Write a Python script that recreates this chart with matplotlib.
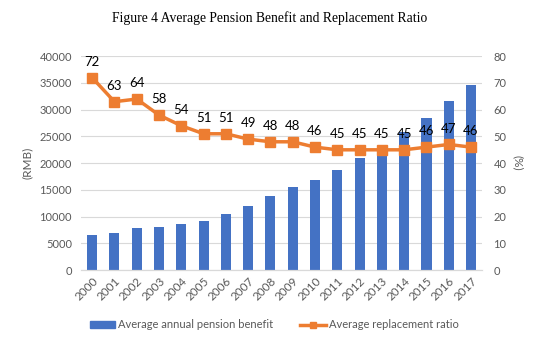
import numpy as np
import matplotlib
matplotlib.use("Agg")
import matplotlib.pyplot as plt
from matplotlib.lines import Line2D
from matplotlib.patches import Patch

# Pension data, 2000-2017
years = [str(y) for y in range(2000, 2018)]
pension = [6600, 6850, 7850, 8050, 8550, 9250, 10550, 12050, 13950,
           15450, 16850, 18800, 21000, 22500, 25800, 28400, 31700, 34600]
ratio = [72, 63, 64, 58, 54, 51, 51, 49, 48, 48, 46, 45, 45, 45, 45, 46, 47, 46]

blue = "#4472C4"
orange = "#ED7D31"
grey = "#595959"
font = ["Lato", "DejaVu Sans"]

fig = plt.figure(figsize=(5.4, 3.41), dpi=100)
ax0 = fig.add_axes([0.150, 0.208, 0.743, 0.627])
ax1 = ax0.twinx()

x = np.arange(len(years))
ax0.bar(x, pension, width=0.45, color=blue, zorder=2)
ax0.set_ylim(0, 40000)
ax0.set_yticks(np.arange(0, 40001, 5000))
ax0.set_xlim(-0.5, len(years) - 0.5)
ax0.grid(axis="y", color="#D9D9D9", linewidth=0.8, zorder=0)
ax0.set_axisbelow(True)

ax1.plot(x, ratio, color=orange, linewidth=2.5, marker="s", markersize=7, zorder=3)
ax1.set_ylim(0, 80)
ax1.set_yticks(np.arange(0, 81, 10))
for xi, r in zip(x, ratio):
	ax1.annotate(str(r), (xi, r), xytext=(0, 7), textcoords="offset points",
	             ha="center", va="bottom", fontsize=9.5, family=font, color="black")

for ax in (ax0, ax1):
	for s in ("top", "left", "right"):
		ax.spines[s].set_visible(False)
	ax.spines["bottom"].set_color("#D9D9D9")
	ax.tick_params(length=0, labelsize=8, labelcolor=grey)
	for lbl in ax.get_yticklabels():
		lbl.set_family(font)

ax0.set_xticks(x)
ax0.set_xticklabels(years, rotation=45, ha="right", rotation_mode="anchor", family=font)
ax0.tick_params(axis="x", labelsize=8.5)
ax0.tick_params(axis="y", pad=6.5)
ax1.tick_params(axis="y", pad=8)

ax0.set_ylabel("(RMB)", fontsize=8.5, color=grey, family=font, labelpad=5)
ax1.set_ylabel("(%)", fontsize=8.5, color=grey, family=font, rotation=270, labelpad=12)

fig.text(0.5, 0.947, "Figure 4 Average Pension Benefit and Replacement Ratio",
         ha="center", va="center", fontsize=9.8, family="Liberation Serif")

handles = [Patch(color=blue),
           Line2D([], [], color=orange, linewidth=2.5, marker="s", markersize=5)]
fig.legend(handles, ["Average annual pension benefit", "Average replacement ratio"],
           loc="center", bbox_to_anchor=(0.508, 0.047), ncol=2, frameon=False,
           prop={"family": font, "size": 8}, labelcolor=grey,
           handlelength=2.3, handletextpad=0.3, columnspacing=2.4)

fig.savefig("out.png", dpi=100)
